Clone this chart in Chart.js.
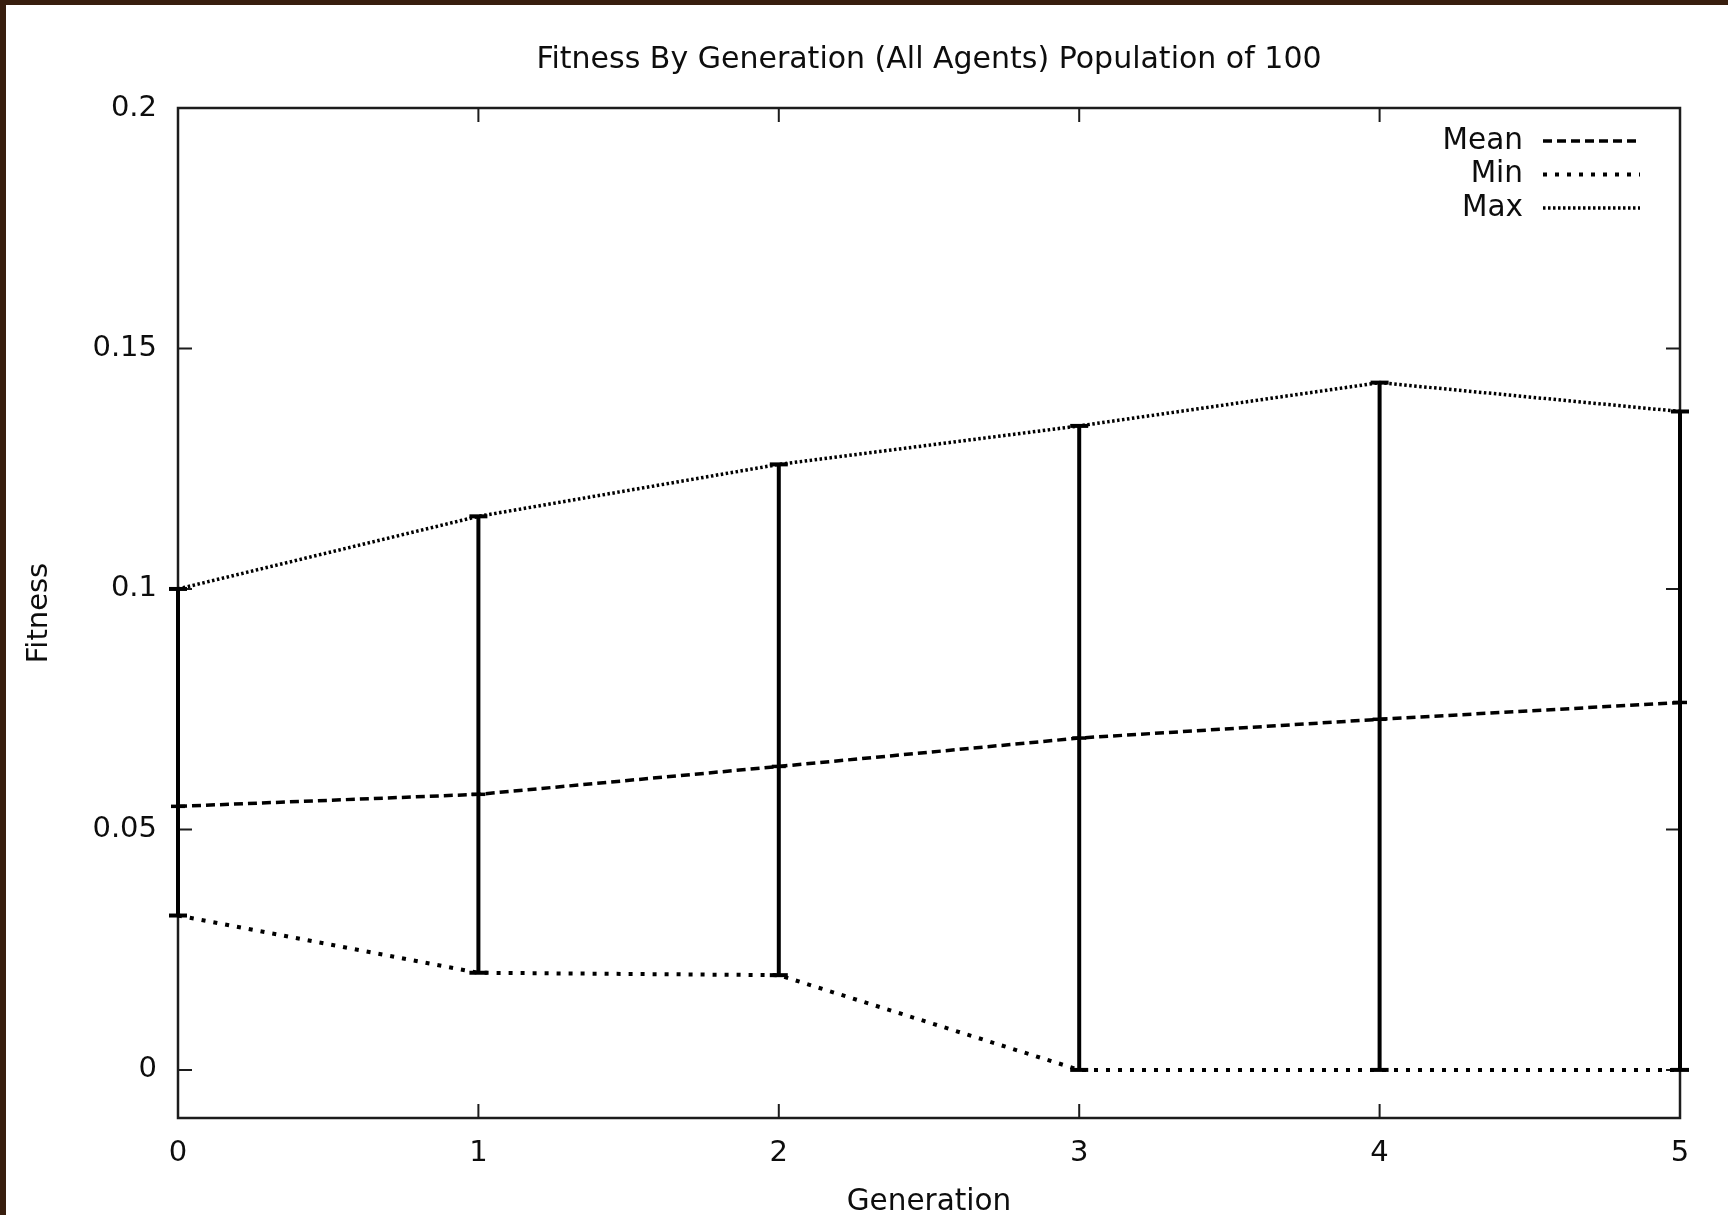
<!DOCTYPE html>
<html>
<head>
<meta charset="utf-8">
<title>Fitness By Generation</title>
<script src="https://cdn.jsdelivr.net/npm/chart.js@4.4.1/dist/chart.umd.min.js"></script>
<style>
  html, body { margin: 0; padding: 0; background: #fff; }
  #wrap { position: relative; width: 1728px; height: 1215px; overflow: hidden; }
  #wrap canvas { position: absolute; left: 0; top: 0; }
  .frame-top { position: absolute; left: 0; top: 0; width: 1728px; height: 5px; background: #381e0e; }
  .frame-left { position: absolute; left: 0; top: 0; width: 6px; height: 1215px; background: #381e0e; }
</style>
</head>
<body>
<div id="wrap">
  <canvas id="fitnessChart" width="1728" height="1215"></canvas>
  <div class="frame-top"></div>
  <div class="frame-left"></div>
</div>
<script>
// values
const generations = [0, 1, 2, 3, 4, 5];
const meanFitness = [0.0548, 0.0573, 0.0631, 0.0690, 0.0729, 0.0764];
const minFitness  = [0.0321, 0.0202, 0.0197, 0, 0, 0];
const maxFitness  = [0.1000, 0.1151, 0.1259, 0.1339, 0.1429, 0.1369];
const xTicks = [0, 1, 2, 3, 4, 5];
const yTicks = [0, 0.05, 0.1, 0.15, 0.2];

const FONT = '"DejaVu Sans", "Liberation Sans", Arial, sans-serif';
const INK = '#0d0d0d';

const series = (label, values, dash, width) => ({
  label,
  inLegend: true,
  data: generations.map((g, i) => ({ x: g, y: values[i] })),
  borderColor: '#000',
  borderWidth: width,
  borderDash: dash,
  pointRadius: 0,
  tension: 0,
  clip: false,
});

// vertical min..max bars with horizontal caps
const errorBars = generations.map((g, i) => ({
  label: '',
  data: [{ x: g, y: minFitness[i] }, { x: g, y: maxFitness[i] }],
  borderColor: '#000',
  borderWidth: 4,
  pointStyle: 'line',
  pointRadius: 9,
  pointBorderWidth: 4,
  pointBorderColor: '#000',
  clip: false,
}));

const mean = series('Mean', meanFitness, [9, 5], 3.5);
mean.pointStyle = 'line';
mean.pointRadius = 7;
mean.pointBorderWidth = 3.5;
mean.pointBorderColor = '#000';

const datasets = [
  ...errorBars,
  mean,
  series('Min', minFitness, [4, 8], 4),
  series('Max', maxFitness, [2.5, 2.5], 3.5),
];

// gnuplot-like frame: closed box, inward ticks on all four sides, key top right
const gnuplotFrame = {
  id: 'gnuplotFrame',
  beforeDatasetsDraw(chart) {
    const { ctx, chartArea: a, scales: { x, y } } = chart;
    const len = 14;
    ctx.save();
    ctx.strokeStyle = '#1c1c1c';
    ctx.lineWidth = 2.5;
    ctx.strokeRect(a.left, a.top, a.right - a.left, a.bottom - a.top);
    ctx.lineWidth = 2;
    ctx.beginPath();
    x.ticks.forEach(t => {
      const px = x.getPixelForValue(t.value);
      ctx.moveTo(px, a.bottom); ctx.lineTo(px, a.bottom - len);
      ctx.moveTo(px, a.top); ctx.lineTo(px, a.top + len);
    });
    y.ticks.forEach(t => {
      const py = y.getPixelForValue(t.value);
      ctx.moveTo(a.left, py); ctx.lineTo(a.left + len, py);
      ctx.moveTo(a.right, py); ctx.lineTo(a.right - len, py);
    });
    ctx.stroke();
    ctx.restore();
  },
  afterDatasetsDraw(chart) {
    const { ctx, chartArea: a } = chart;
    const items = chart.data.datasets.filter(d => d.inLegend);
    ctx.save();
    ctx.font = '29.5px ' + FONT;
    ctx.fillStyle = INK;
    ctx.textAlign = 'right';
    ctx.textBaseline = 'middle';
    items.forEach((d, k) => {
      const ly = a.top + 33 + k * 33.5;
      ctx.fillText(d.label, a.right - 157, ly);
      ctx.strokeStyle = '#000';
      ctx.lineWidth = d.borderWidth;
      ctx.setLineDash(d.borderDash);
      ctx.beginPath();
      ctx.moveTo(a.right - 137, ly);
      ctx.lineTo(a.right - 40, ly);
      ctx.stroke();
    });
    ctx.restore();
  },
};

new Chart(document.getElementById('fitnessChart'), {
  type: 'line',
  data: { datasets },
  options: {
    responsive: false,
    devicePixelRatio: 1,
    animation: false,
    layout: { padding: { left: 0, right: 48, top: 0, bottom: 0 } },
    plugins: {
      legend: { display: false },
      tooltip: { enabled: false },
      title: {
        display: true,
        fullSize: false,
        text: 'Fitness By Generation (All Agents) Population of 100',
        color: INK,
        font: { family: FONT, size: 30, weight: 'normal' },
        padding: { top: 42, bottom: 30 },
      },
    },
    scales: {
      x: {
        type: 'linear',
        min: 0,
        max: 5,
        grid: { display: false, drawTicks: false },
        border: { display: false },
        afterBuildTicks: s => { s.ticks = xTicks.map(v => ({ value: v })); },
        afterFit: s => { s.height = 97; },
        ticks: { color: INK, font: { family: FONT, size: 29 }, padding: 18, callback: v => String(v) },
        title: { display: true, text: 'Generation', color: INK, font: { family: FONT, size: 29.5, lineHeight: 0.85 }, padding: { top: 0, bottom: 0 } },
      },
      y: {
        type: 'linear',
        min: -0.01,
        max: 0.2,
        grid: { display: false, drawTicks: false },
        border: { display: false },
        afterBuildTicks: s => { s.ticks = yTicks.map(v => ({ value: v })); },
        afterFit: s => { s.width = 178; },
        ticks: { color: INK, font: { family: FONT, size: 29 }, padding: 21, callback: v => String(v) },
        title: { display: true, text: 'Fitness', color: INK, font: { family: FONT, size: 29, lineHeight: 1 }, padding: { top: 25, bottom: 0 } },
      },
    },
  },
  plugins: [gnuplotFrame],
});
</script>
</body>
</html>
